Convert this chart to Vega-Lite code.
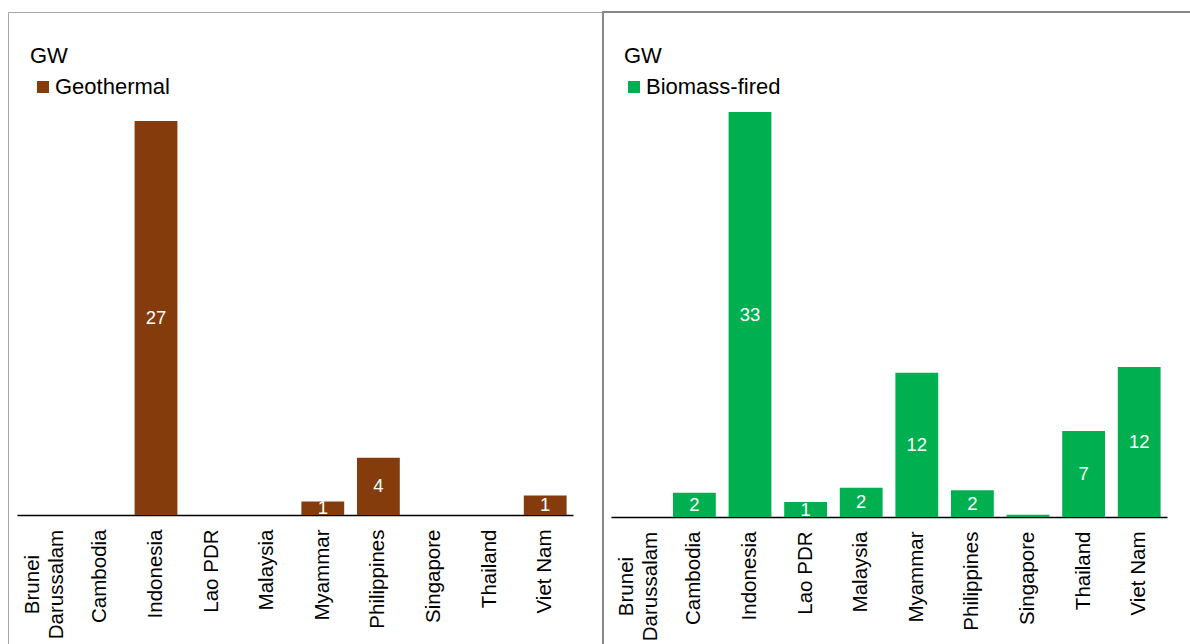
{
  "$schema": "https://vega.github.io/schema/vega-lite/v6.json",
  "padding": {"left": 7, "top": 11, "right": 0, "bottom": 0},
  "spacing": -2,
  "config": {
    "font": "Liberation Sans",
    "view": {"stroke": null}
  },
  "datasets": {
    "geothermal": [
      {"country": "Brunei Darussalam", "value": 0, "type": "Geothermal"},
      {"country": "Cambodia", "value": 0, "type": "Geothermal"},
      {"country": "Indonesia", "value": 27, "type": "Geothermal"},
      {"country": "Lao PDR", "value": 0, "type": "Geothermal"},
      {"country": "Malaysia", "value": 0, "type": "Geothermal"},
      {"country": "Myammar", "value": 0.92, "type": "Geothermal"},
      {"country": "Philippines", "value": 3.93, "type": "Geothermal"},
      {"country": "Singapore", "value": 0, "type": "Geothermal"},
      {"country": "Thailand", "value": 0, "type": "Geothermal"},
      {"country": "Viet Nam", "value": 1.33, "type": "Geothermal"}
    ],
    "biomass": [
      {"country": "Brunei Darussalam", "value": 0, "type": "Biomass-fired"},
      {"country": "Cambodia", "value": 1.98, "type": "Biomass-fired"},
      {"country": "Indonesia", "value": 33, "type": "Biomass-fired"},
      {"country": "Lao PDR", "value": 1.22, "type": "Biomass-fired"},
      {"country": "Malaysia", "value": 2.39, "type": "Biomass-fired"},
      {"country": "Myammar", "value": 11.76, "type": "Biomass-fired"},
      {"country": "Philippines", "value": 2.18, "type": "Biomass-fired"},
      {"country": "Singapore", "value": 0.19, "type": "Biomass-fired"},
      {"country": "Thailand", "value": 7.0, "type": "Biomass-fired"},
      {"country": "Viet Nam", "value": 12.22, "type": "Biomass-fired"}
    ]
  },
  "hconcat": [
    {
      "width": 594,
      "height": 640,
      "view": {"stroke": "#a6a6a6", "strokeWidth": 1},
      "data": {"name": "geothermal"},
      "encoding": {
        "x": {
          "field": "country",
          "type": "nominal",
          "sort": null,
          "scale": {"range": [9, 565], "paddingInner": 0.23, "paddingOuter": 0.115},
          "axis": {
            "title": null,
            "offset": -137,
            "ticks": false,
            "tickSize": 0,
            "domainColor": "#000000",
            "domainWidth": 1.3,
            "labelAngle": -90,
            "labelAlign": {"condition": {"test": "datum.value === 'Brunei Darussalam'", "value": "center"}, "value": "right"},
            "labelBaseline": "middle",
            "labelPadding": {"condition": {"test": "datum.value === 'Brunei Darussalam'", "value": 69}, "value": 14},
            "labelOffset": {"condition": {"test": "datum.value === 'Brunei Darussalam'", "value": -12}, "value": 0},
            "labelExpr": "datum.value === 'Brunei Darussalam' ? ['Brunei', 'Darussalam'] : datum.label",
            "labelLineHeight": 24,
            "labelFontSize": 20.5,
            "labelColor": "#000000",
            "labelLimit": 300,
            "labelOverlap": false
          }
        }
      },
      "layer": [
        {
          "mark": {"type": "bar"},
          "encoding": {
            "y": {
              "field": "value",
              "type": "quantitative",
              "scale": {"domain": [0, 27], "range": [503, 109]},
              "axis": null
            },
            "color": {
              "field": "type",
              "type": "nominal",
              "scale": {"range": ["#843C0C"]},
              "legend": {
                "orient": "none",
                "legendX": 22,
                "legendY": 34,
                "padding": 0,
                "title": "GW",
                "titleFontSize": 22,
                "titleFontWeight": "normal",
                "titleColor": "#000000",
                "titlePadding": 8,
                "labelFontSize": 22,
                "labelColor": "#000000",
                "labelOffset": 1,
                "symbolType": "square",
                "symbolSize": 144,
                "symbolOffset": 2,
                "symbolStrokeWidth": 0
              }
            }
          }
        },
        {
          "transform": [{"filter": "datum.value >= 0.5"}],
          "mark": {"type": "text", "color": "#ffffff", "fontSize": 18.5, "baseline": "middle"},
          "encoding": {
            "y": {
              "field": "value",
              "type": "quantitative",
              "scale": {"domain": [0, 54], "range": [503, 109]},
              "axis": null
            },
            "text": {"field": "value", "type": "quantitative", "format": ".0f"}
          }
        }
      ],
      "resolve": {"scale": {"y": "independent"}}
    },
    {
      "width": 600,
      "height": 640,
      "view": {"stroke": "#888888", "strokeWidth": 2},
      "data": {"name": "biomass"},
      "encoding": {
        "x": {
          "field": "country",
          "type": "nominal",
          "sort": null,
          "scale": {"range": [8, 564], "paddingInner": 0.23, "paddingOuter": 0.115},
          "axis": {
            "title": null,
            "offset": -135,
            "ticks": false,
            "tickSize": 0,
            "domainColor": "#000000",
            "domainWidth": 1.3,
            "labelAngle": -90,
            "labelAlign": {"condition": {"test": "datum.value === 'Brunei Darussalam'", "value": "center"}, "value": "right"},
            "labelBaseline": "middle",
            "labelPadding": {"condition": {"test": "datum.value === 'Brunei Darussalam'", "value": 69}, "value": 14},
            "labelOffset": {"condition": {"test": "datum.value === 'Brunei Darussalam'", "value": -12}, "value": 0},
            "labelExpr": "datum.value === 'Brunei Darussalam' ? ['Brunei', 'Darussalam'] : datum.label",
            "labelLineHeight": 24,
            "labelFontSize": 20.5,
            "labelColor": "#000000",
            "labelLimit": 300,
            "labelOverlap": false
          }
        }
      },
      "layer": [
        {
          "mark": {"type": "bar"},
          "encoding": {
            "y": {
              "field": "value",
              "type": "quantitative",
              "scale": {"domain": [0, 33], "range": [505, 100]},
              "axis": null
            },
            "color": {
              "field": "type",
              "type": "nominal",
              "scale": {"range": ["#00B050"]},
              "legend": {
                "orient": "none",
                "legendX": 21,
                "legendY": 34,
                "padding": 0,
                "title": "GW",
                "titleFontSize": 22,
                "titleFontWeight": "normal",
                "titleColor": "#000000",
                "titlePadding": 8,
                "labelFontSize": 22,
                "labelColor": "#000000",
                "labelOffset": 1,
                "symbolType": "square",
                "symbolSize": 144,
                "symbolOffset": -1,
                "symbolStrokeWidth": 0
              }
            }
          }
        },
        {
          "transform": [{"filter": "datum.value >= 0.5"}],
          "mark": {"type": "text", "color": "#ffffff", "fontSize": 18.5, "baseline": "middle"},
          "encoding": {
            "y": {
              "field": "value",
              "type": "quantitative",
              "scale": {"domain": [0, 66], "range": [505, 100]},
              "axis": null
            },
            "text": {"field": "value", "type": "quantitative", "format": ".0f"}
          }
        }
      ],
      "resolve": {"scale": {"y": "independent"}}
    }
  ],
  "resolve": {"scale": {"color": "independent"}, "legend": {"color": "independent"}}
}
